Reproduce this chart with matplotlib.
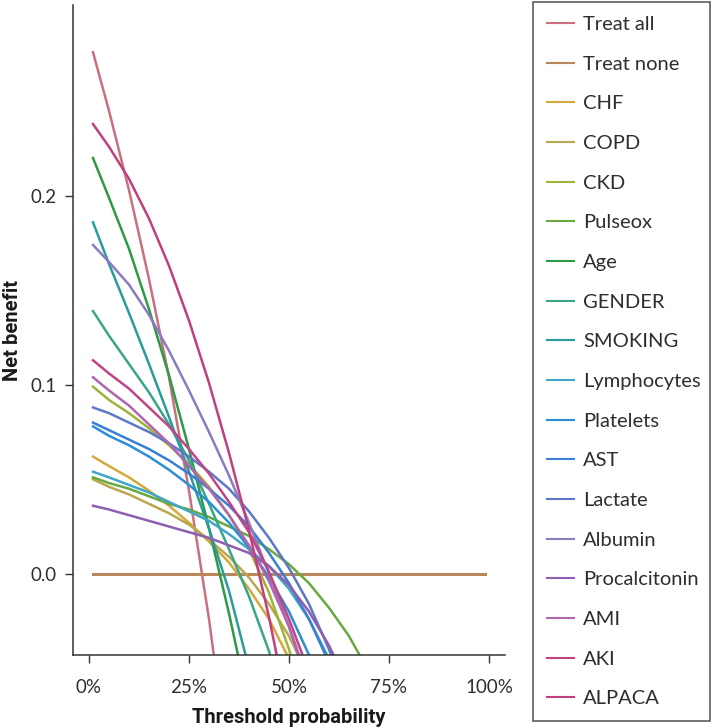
import numpy as np
import matplotlib
matplotlib.use("Agg")
import matplotlib.pyplot as plt

# threshold grid shared by all curves
thresholds = [0.01, 0.05, 0.10, 0.15, 0.20, 0.25, 0.30, 0.35, 0.40, 0.45, 0.50, 0.55, 0.60, 0.65, 0.70]
nan = np.nan

treat_all     = [0.276, 0.245, 0.203, 0.156, 0.104, 0.044, -0.024, -0.103, nan, nan, nan, nan, nan, nan, nan]
treat_none_x  = [0.01, 0.99]
treat_none    = [0.0, 0.0]

chf           = [0.062, 0.057, 0.051, 0.044, 0.036, 0.027, 0.017, 0.006, -0.008, -0.024, -0.045, -0.070, nan, nan, nan]
copd          = [0.050, 0.046, 0.042, 0.037, 0.032, 0.026, 0.018, 0.009, -0.002, -0.016, -0.033, -0.055, nan, nan, nan]
ckd           = [0.099, 0.092, 0.085, 0.077, 0.068, 0.058, 0.046, 0.031, 0.013, -0.010, -0.040, -0.075, nan, nan, nan]
pulseox       = [0.051, 0.048, 0.045, 0.041, 0.037, 0.034, 0.030, 0.025, 0.020, 0.013, 0.005, -0.005, -0.018, -0.033, -0.052]
age           = [0.220, 0.199, 0.172, 0.140, 0.105, 0.066, 0.024, -0.021, -0.070, nan, nan, nan, nan, nan, nan]
gender        = [0.139, 0.126, 0.111, 0.096, 0.079, 0.060, 0.037, 0.013, -0.012, -0.041, -0.075, nan, nan, nan, nan]
smoking       = [0.186, 0.164, 0.138, 0.111, 0.083, 0.054, 0.024, -0.009, -0.050, nan, nan, nan, nan, nan, nan]
lymphocytes   = [0.054, 0.051, 0.047, 0.043, 0.038, 0.033, 0.028, 0.021, 0.013, 0.004, -0.008, -0.024, -0.045, nan, nan]
platelets     = [0.078, 0.073, 0.068, 0.062, 0.055, 0.047, 0.038, 0.027, 0.014, -0.002, -0.020, -0.043, -0.070, nan, nan]
ast           = [0.080, 0.076, 0.071, 0.066, 0.060, 0.053, 0.045, 0.036, 0.025, 0.011, -0.005, -0.024, -0.047, nan, nan]
lactate       = [0.088, 0.085, 0.080, 0.075, 0.069, 0.062, 0.054, 0.045, 0.033, 0.019, 0.003, -0.016, -0.040, -0.068, nan]
albumin       = [0.174, 0.165, 0.153, 0.137, 0.118, 0.097, 0.075, 0.052, 0.027, 0.000, -0.028, -0.060, nan, nan, nan]
procalcitonin = [0.036, 0.034, 0.031, 0.028, 0.025, 0.022, 0.019, 0.015, 0.011, 0.004, -0.006, -0.020, -0.038, -0.060, nan]
ami           = [0.104, 0.097, 0.089, 0.079, 0.069, 0.057, 0.045, 0.031, 0.015, -0.004, -0.028, -0.058, nan, nan, nan]
aki           = [0.113, 0.106, 0.098, 0.088, 0.078, 0.066, 0.053, 0.038, 0.022, 0.001, -0.024, -0.052, nan, nan, nan]
alpaca        = [0.238, 0.226, 0.209, 0.188, 0.163, 0.134, 0.101, 0.064, 0.023, -0.023, -0.075, nan, nan, nan, nan]

labels = ["Treat all", "Treat none", "CHF", "COPD", "CKD", "Pulseox", "Age", "GENDER",
          "SMOKING", "Lymphocytes", "Platelets", "AST", "Lactate", "Albumin",
          "Procalcitonin", "AMI", "AKI", "ALPACA"]
model_series = [chf, copd, ckd, pulseox, age, gender, smoking, lymphocytes, platelets,
                ast, lactate, albumin, procalcitonin, ami, aki, alpaca]
colors = ["#c8707e", "#b8875a", "#d4a93a", "#b9a84e", "#9fb23a", "#6aa840", "#2f9a45",
          "#3aa58a", "#2a9c9c", "#3fa6c6", "#2c8fd6", "#3a7fd2", "#5c78c6", "#8a7cc0",
          "#8e5fb0", "#b065ae", "#c14488", "#c0407e"]

text_font = "Lato"
text_color = "#2e2e2e"
fig = plt.figure(figsize=(7.13, 7.28), dpi=100)
ax = fig.add_axes([73/713, 73/728, 432/713, 650/728])

ax.plot(thresholds, treat_all, color=colors[0], lw=1.8, label=labels[0])
ax.plot(treat_none_x, treat_none, color=colors[1], lw=2.2, label=labels[1])
for vals, lab, col in zip(model_series, labels[2:], colors[2:]):
    ax.plot(thresholds, vals, color=col, lw=1.8, label=lab)

ax.set_xlim(-0.04, 1.04)
ax.set_ylim(-0.043, 0.301)
ax.set_xticks([0, 0.25, 0.5, 0.75, 1.0])
ax.set_xticklabels(["0%", "25%", "50%", "75%", "100%"])
ax.set_yticks([0.0, 0.1, 0.2])
ax.set_yticklabels(["0.0", "0.1", "0.2"])
for lbl in ax.get_xticklabels() + ax.get_yticklabels():
    lbl.set_fontfamily(text_font)
    lbl.set_fontsize(13.5)
    lbl.set_color(text_color)
ax.tick_params(direction="out", length=6, width=1, color="#333333")
ax.tick_params(axis="x", pad=11)
ax.tick_params(axis="y", pad=6)
for side in ["top", "right"]:
    ax.spines[side].set_visible(False)
for side in ["left", "bottom"]:
    ax.spines[side].set_color("#333333")
    ax.spines[side].set_linewidth(1.1)

ax.set_xlabel("Threshold probability", fontsize=14.5, fontweight="bold", family="Roboto",
              color="#1a1a1a", labelpad=9)
ax.set_ylabel("Net benefit", fontsize=14.5, fontweight="bold", family="Roboto",
              color="#1a1a1a", labelpad=6)

leg = fig.legend(loc="upper left", bbox_to_anchor=(533/713, 0, 177/713, 1 - 2/728),
                 mode="expand", frameon=True, fancybox=False, edgecolor="#222222",
                 prop={"family": text_font, "size": 14.5},
                 handlelength=1.35, handletextpad=0.45, labelspacing=1.12,
                 borderpad=0.7, borderaxespad=0)
leg.get_frame().set_linewidth(1.1)
for line in leg.get_lines():
    line.set_linewidth(1.5)
for txt in leg.get_texts():
    txt.set_color(text_color)

fig.savefig("out.png", dpi=100)
